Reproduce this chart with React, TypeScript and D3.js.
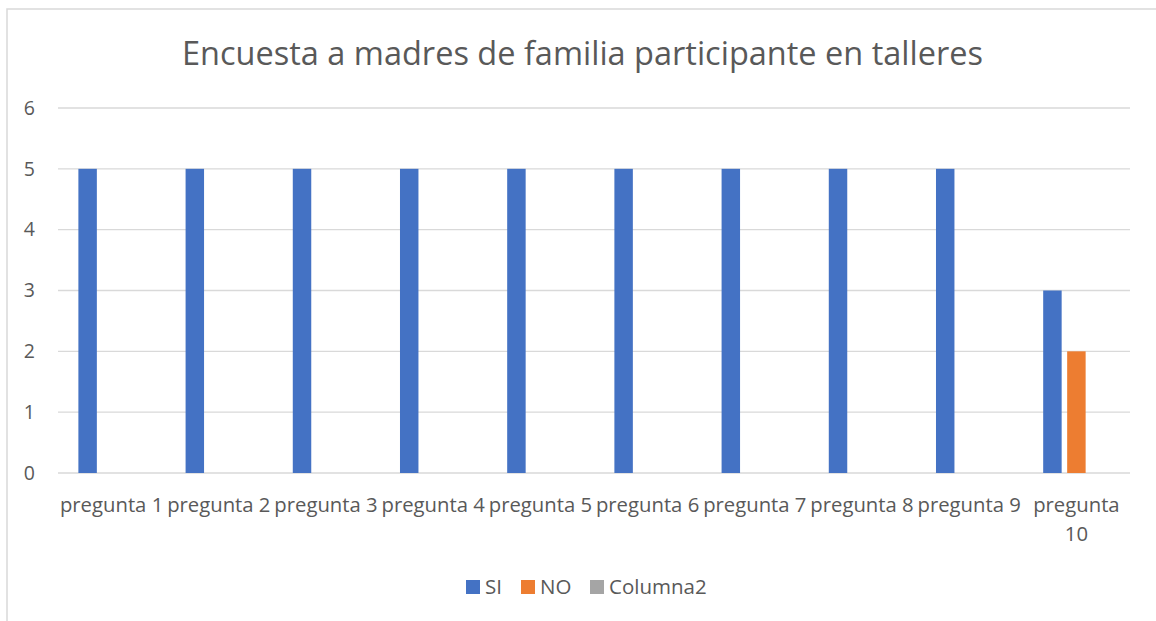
import React, { useRef, useEffect } from 'react';
import * as d3 from 'd3';

const categories = [
  'pregunta 1', 'pregunta 2', 'pregunta 3', 'pregunta 4', 'pregunta 5',
  'pregunta 6', 'pregunta 7', 'pregunta 8', 'pregunta 9', 'pregunta 10',
];
const seriesNames = ['SI', 'NO', 'Columna2'];
const siValues = [5, 5, 5, 5, 5, 5, 5, 5, 5, 3];
const noValues = [0, 0, 0, 0, 0, 0, 0, 0, 0, 2];
const columna2Values = [0, 0, 0, 0, 0, 0, 0, 0, 0, 0];
const yTicks = [0, 1, 2, 3, 4, 5, 6];
const colors = ['#4472C4', '#ED7D31', '#A5A5A5'];

const title = 'Encuesta a madres de familia participante en talleres';
const width = 1156;
const height = 621;
const FONT = '"Open Sans", sans-serif';
const textColor = '#595959';

function App() {
  const svgRef = useRef<SVGSVGElement>(null);

  useEffect(() => {
    const svg = d3.select(svgRef.current);
    svg.selectAll('*').remove();

    const left = 58;
    const right = 1130;
    const x0 = d3.scaleBand().domain(categories).range([left, right]);
    const x1 = d3
      .scaleBand()
      .domain(seriesNames)
      .range([0, x0.bandwidth()])
      .paddingInner(0.23)
      .paddingOuter(0.85);
    const y = d3.scaleLinear().domain([0, 6]).range([473, 108]);

    // chart border
    svg
      .append('rect')
      .attr('x', 7)
      .attr('y', 9)
      .attr('width', width + 20)
      .attr('height', height + 20)
      .attr('fill', 'white')
      .attr('stroke', '#d9d9d9')
      .attr('stroke-width', 1.5);

    // title
    svg
      .append('text')
      .attr('x', 582.5)
      .attr('y', 65)
      .attr('text-anchor', 'middle')
      .attr('font-family', FONT)
      .attr('font-size', 32.5)
      .attr('fill', textColor)
      .text(title);

    // grid
    svg
      .append('g')
      .selectAll('line')
      .data(yTicks)
      .enter()
      .append('line')
      .attr('x1', left)
      .attr('x2', right)
      .attr('y1', (d) => y(d))
      .attr('y2', (d) => y(d))
      .attr('stroke', '#d9d9d9')
      .attr('stroke-width', 1.4);

    svg
      .append('g')
      .selectAll('text')
      .data(yTicks)
      .enter()
      .append('text')
      .attr('x', 35)
      .attr('y', (d) => y(d))
      .attr('dy', '0.35em')
      .attr('text-anchor', 'end')
      .attr('font-family', FONT)
      .attr('font-size', 19.5)
      .attr('fill', textColor)
      .text((d) => d);

    // bars
    const allValues = [siValues, noValues, columna2Values];
    const rows = categories.map((c, i) =>
      seriesNames.map((s, j) => ({ cat: c, series: s, value: allValues[j][i], color: colors[j] }))
    );
    svg
      .append('g')
      .selectAll('g')
      .data(rows)
      .enter()
      .append('g')
      .attr('transform', (d) => 'translate(' + x0(d[0].cat) + ',0)')
      .selectAll('rect')
      .data((d) => d.filter((v) => v.value > 0))
      .enter()
      .append('rect')
      .attr('x', (d) => x1(d.series))
      .attr('width', x1.bandwidth())
      .attr('y', (d) => y(d.value))
      .attr('height', (d) => y(0) - y(d.value))
      .attr('fill', (d) => d.color);

    // x labels, wrapped when wider than the band
    const xl = svg.append('g');
    categories.forEach((c) => {
      const cx = x0(c) + x0.bandwidth() / 2;
      const t = xl
        .append('text')
        .attr('x', cx)
        .attr('y', 512)
        .attr('text-anchor', 'middle')
        .attr('font-family', FONT)
        .attr('font-size', 20.3)
        .attr('fill', textColor)
        .text(c);
      const node = t.node() as SVGTextElement;
      if (node.getComputedTextLength() > x0.bandwidth()) {
        const words = c.split(' ');
        t.text(null);
        words.forEach((w, k) => {
          t.append('tspan')
            .attr('x', cx)
            .attr('dy', k === 0 ? 0 : 29)
            .text(w);
        });
      }
    });

    // legend
    const legendX = [466, 521, 590];
    const lg = svg.append('g');
    seriesNames.forEach((s, i) => {
      lg.append('rect')
        .attr('x', legendX[i])
        .attr('y', 580)
        .attr('width', 14)
        .attr('height', 14)
        .attr('fill', colors[i]);
      lg.append('text')
        .attr('x', legendX[i] + 19)
        .attr('y', 594)
        .attr('font-family', FONT)
        .attr('font-size', 20.5)
        .attr('fill', textColor)
        .text(s);
    });
  }, []);

  return (
    <svg
      ref={svgRef}
      width={width}
      height={height}
      style={{ position: 'absolute', left: 0, top: 0, background: 'white' }}
    ></svg>
  );
}

export default App;
